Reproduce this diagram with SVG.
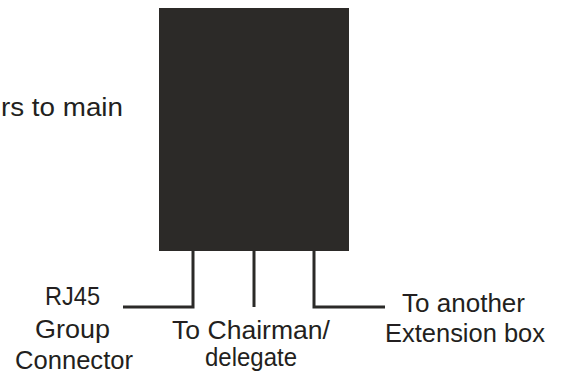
<svg xmlns="http://www.w3.org/2000/svg" width="565" height="376" viewBox="0 0 565 376">
<style>
.t{font-family:"Liberation Sans",Arial,sans-serif;font-size:25px;fill:#231f20}
.c{fill:none;stroke:#2b2a28;stroke-width:3}
</style>
<rect width="565" height="376" fill="#fff"/>
<g id="box"><rect x="159" y="8" width="190" height="243" fill="#2c2a28"/></g>
<g id="connectors">
<path class="c" d="M193 251V307H123"/>
<path class="c" d="M254 251V307"/>
<path class="c" d="M314 251V307H385"/>
</g>
<g id="top-label"><text class="t" x="1" y="116" textLength="122" lengthAdjust="spacingAndGlyphs">rs to main</text></g>
<g id="rj45">
<text class="t" x="45" y="305" textLength="55" lengthAdjust="spacingAndGlyphs">RJ45</text>
<text class="t" x="35" y="338" textLength="75" lengthAdjust="spacingAndGlyphs">Group</text>
<text class="t" x="15" y="369" textLength="118" lengthAdjust="spacingAndGlyphs">Connector</text>
</g>
<g id="chairman">
<text class="t" x="172" y="339" textLength="158" lengthAdjust="spacingAndGlyphs">To Chairman/</text>
<text class="t" x="205" y="366" textLength="92" lengthAdjust="spacingAndGlyphs">delegate</text>
</g>
<g id="extension">
<text class="t" x="402" y="312" textLength="123" lengthAdjust="spacingAndGlyphs">To another</text>
<text class="t" x="385" y="342" textLength="160" lengthAdjust="spacingAndGlyphs">Extension box</text>
</g>
</svg>
